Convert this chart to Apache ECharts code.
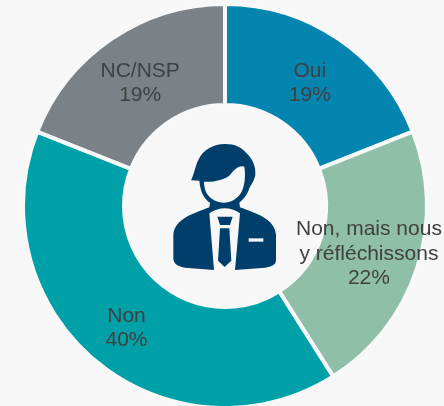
<!DOCTYPE html>
<html>
<head>
<meta charset="utf-8">
<style>html,body{margin:0;padding:0;background:#f7f7f7}#c{width:444px;height:406px}</style>
<script src="https://cdn.jsdelivr.net/npm/echarts@6/dist/echarts.min.js"></script>
</head>
<body>
<div id="c"></div>
<script>
const categories = ['Oui', 'Non, mais nous\ny réfléchissons', 'Non', 'NC/NSP'];
const values = [19, 22, 40, 19];
const colors = ['#0385B0', '#8FBFA8', '#00A0A8', '#7A8287'];
const labelNudges = [[-2, 5], [-3, 0], [0, 3], [2, 5]];

const iconDark = 'M285,72 C315,72 335,82 350,100 C368,118 378,140 376,165 C372,185 362,195 358,205 C352,225 338,240 328,248 L330,262 C375,280 435,295 438,345 L438,420 C438,435 425,440 405,443 L315,450 L330,280 Q285,250 238,280 L252,450 L165,443 C145,440 130,432 130,415 L130,345 C133,295 195,280 238,262 L240,248 C225,238 212,222 208,182 L183,181 C192,165 195,140 205,120 C218,90 250,72 285,72 Z';
const iconFace = 'M222,185 C245,188 285,180 300,165 C315,145 330,135 343,140 C347,165 345,195 335,215 C322,238 300,248 282,248 C262,248 240,238 230,220 C224,208 222,195 222,185 Z';
const iconTie = 'M262,290 L308,290 L300,315 L270,315 Z M270,325 L298,325 L304,422 L284,441 L264,422 Z';
const iconPocket = 'M356,355 L400,355 L400,365 L356,365 Z';

const chart = echarts.init(document.getElementById('c'), null, {renderer: 'canvas'});
const iconPart = (key, d, fill) => {
  echarts.graphic.registerShape(key, echarts.graphic.extendPath(d, {}));
  return {type: key, x: 130, y: 120, scaleX: 1 / 3, scaleY: 1 / 3, z: 10, style: {fill}};
};
chart.setOption({
  backgroundColor: '#f7f7f7',
  animation: false,
  series: [{
    type: 'pie',
    center: [225, 206],
    radius: [101, 202],
    startAngle: 90,
    clockwise: true,
    silent: true,
    data: categories.map((name, i) => ({name, value: values[i], itemStyle: {color: colors[i]}})),
    itemStyle: {borderColor: '#f8f8f8', borderWidth: 4},
    label: {
      position: 'inside',
      formatter: p => p.name + '\n' + p.value + '%',
      color: '#404040',
      fontFamily: 'Liberation Sans',
      fontSize: 21,
      lineHeight: 24.5,
      textBorderWidth: 0
    },
    labelLayout: p => ({dx: labelNudges[p.dataIndex][0], dy: labelNudges[p.dataIndex][1]}),
    labelLine: {show: false}
  }],
  graphic: [
    iconPart('iconDark', iconDark, '#003F6B'),
    iconPart('iconFace', iconFace, '#f7f7f7'),
    iconPart('iconTie', iconTie, '#003F6B'),
    iconPart('iconPocket', iconPocket, '#f7f7f7')
  ]
});
</script>
</body>
</html>
